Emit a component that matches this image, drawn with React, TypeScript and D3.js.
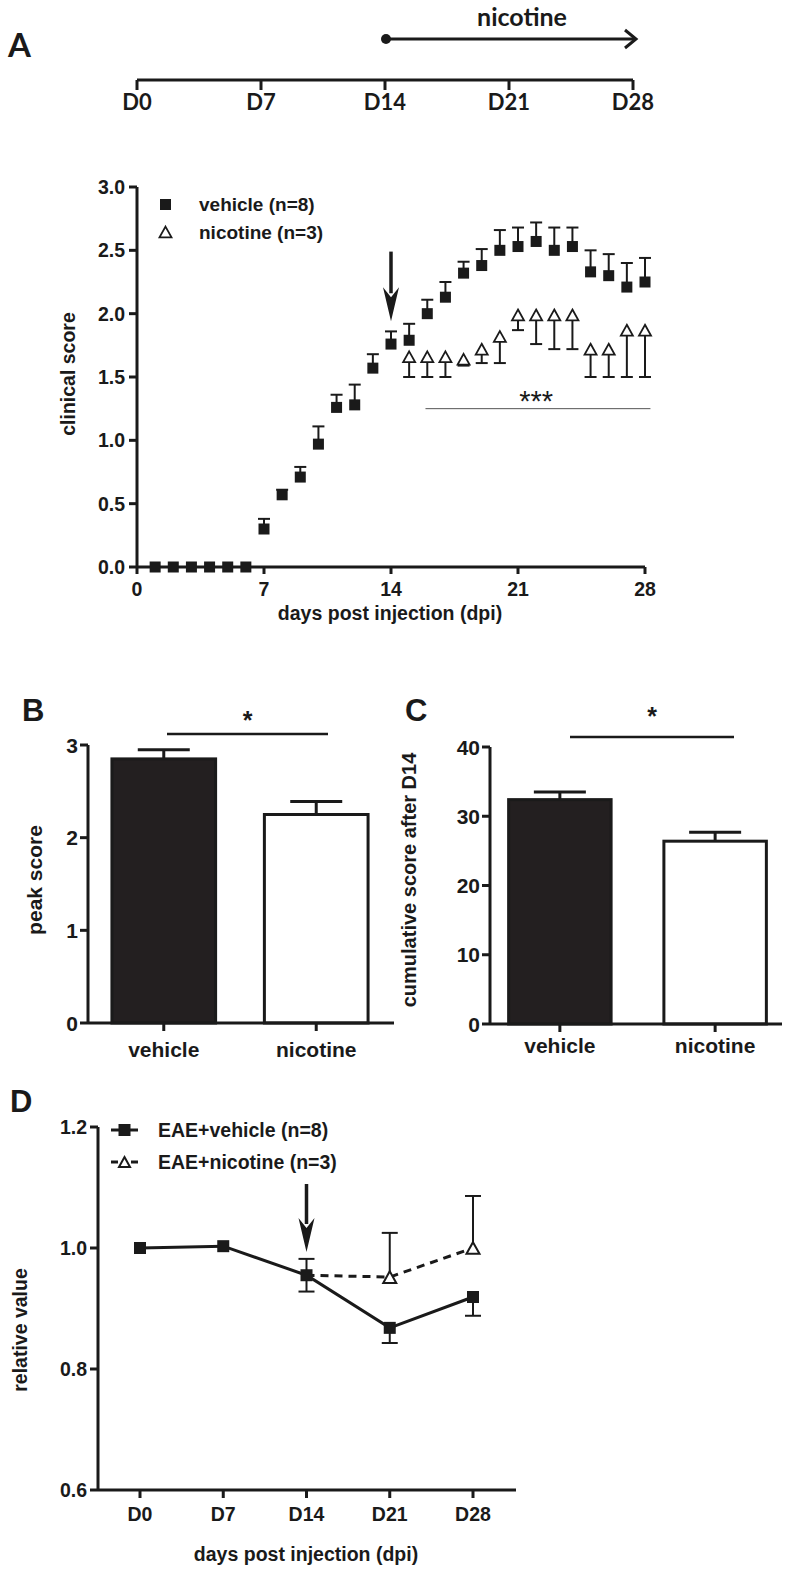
import React from 'react';
import * as d3 from 'd3';

// ---------- Data ----------
const timelineDays = [0, 7, 14, 21, 28];
const timelineLabels = ['D0', 'D7', 'D14', 'D21', 'D28'];

const vehicleDays = [1, 2, 3, 4, 5, 6, 7, 8, 9, 10, 11, 12, 13, 14, 15, 16, 17, 18, 19, 20, 21, 22, 23, 24, 25, 26, 27, 28];
const vehicleMean = [0, 0, 0, 0, 0, 0, 0.30, 0.57, 0.71, 0.97, 1.26, 1.28, 1.57, 1.76, 1.79, 2.00, 2.13, 2.32, 2.38, 2.50, 2.53, 2.57, 2.50, 2.53, 2.33, 2.30, 2.21, 2.25];
const vehicleErrTop = [0, 0, 0, 0, 0, 0, 0.38, 0.61, 0.79, 1.11, 1.36, 1.44, 1.68, 1.86, 1.92, 2.11, 2.25, 2.41, 2.51, 2.66, 2.68, 2.72, 2.68, 2.68, 2.50, 2.47, 2.40, 2.44];

const nicotineDays = [15, 16, 17, 18, 19, 20, 21, 22, 23, 24, 25, 26, 27, 28];
const nicotineMean = [1.66, 1.66, 1.66, 1.64, 1.72, 1.82, 1.99, 1.99, 1.99, 1.99, 1.72, 1.72, 1.87, 1.87];
const nicotineErrLow = [1.50, 1.50, 1.50, 1.59, 1.61, 1.61, 1.87, 1.76, 1.72, 1.72, 1.50, 1.50, 1.50, 1.50];

const aXTicks = [0, 7, 14, 21, 28];
const aYTicks = [0, 0.5, 1.0, 1.5, 2.0, 2.5, 3.0];

const barGroups = ['vehicle', 'nicotine'];
const peakMean = [2.85, 2.25];
const peakErr = [0.10, 0.14];
const peakTicks = [0, 1, 2, 3];

const cumMean = [32.4, 26.4];
const cumErr = [1.1, 1.3];
const cumTicks = [0, 10, 20, 30, 40];

const dLabels = ['D0', 'D7', 'D14', 'D21', 'D28'];
const dVehicleMean = [1.0, 1.003, 0.955, 0.868, 0.919];
const dVehicleErr = [0, 0.004, 0.027, 0.025, 0.031];
const dNicotineLabels = ['D14', 'D21', 'D28'];
const dNicotineMean = [0.955, 0.952, 1.0];
const dNicotineErr = [0, 0.073, 0.086];
const dTicks = [0.6, 0.8, 1.0, 1.2];

const F = "'Liberation Sans', Arial, sans-serif";
const FC = "Lato, 'Open Sans', sans-serif";
const INK = '#1a1a1a';

function tri(cx: number, cy: number, s: number) {
  const h = s * 0.9;
  return `M${cx},${cy - h / 2} L${cx + s / 2},${cy + h / 2} L${cx - s / 2},${cy + h / 2} Z`;
}

function DownArrow({ x, y1, y2 }: { x: number; y1: number; y2: number }) {
  const headLen = 34;
  const hw = 8;
  return (
    <g>
      <line x1={x} y1={y1} x2={x} y2={y2 - headLen + 6} stroke={INK} strokeWidth={3.5} />
      <path d={`M${x},${y2} L${x - hw},${y2 - headLen} L${x},${y2 - headLen + 10} L${x + hw},${y2 - headLen} Z`} fill={INK} />
    </g>
  );
}

function Timeline() {
  const x = d3.scaleLinear().domain([0, 28]).range([137, 633]);
  const y = 80;
  return (
    <g fontFamily={FC} fontWeight="bold" fill={INK}>
      <text x={8} y={57} fontSize={33}>A</text>
      <line x1={x(0)} y1={y} x2={x(28)} y2={y} stroke={INK} strokeWidth={3} />
      {timelineDays.map((d, i) => (
        <g key={d}>
          <line x1={x(d)} y1={y} x2={x(d)} y2={y + 10} stroke={INK} strokeWidth={3} />
          <text x={x(d)} y={110} textAnchor="middle" fontSize={22}>{timelineLabels[i]}</text>
        </g>
      ))}
      <circle cx={x(14) + 1} cy={39} r={5} fill={INK} />
      <line x1={x(14)} y1={39} x2={x(28) + 2} y2={39} stroke={INK} strokeWidth={3} />
      <path d={`M${x(28) - 8},${30} L${x(28) + 3},${39} L${x(28) - 8},${48}`} fill="none" stroke={INK} strokeWidth={3} />
      <text x={522} y={26} textAnchor="middle" fontSize={25}>nicotine</text>
    </g>
  );
}

function PanelA() {
  const x = d3.scaleLinear().domain([0, 28]).range([137, 645]);
  const y = d3.scaleLinear().domain([0, 3]).range([567, 187]);
  const cap = 6;
  const sq = 11;
  return (
    <g fontFamily={F} fontWeight="bold" fill={INK}>
      {/* axes */}
      <line x1={x(0)} y1={y(3)} x2={x(0)} y2={y(0)} stroke={INK} strokeWidth={3} />
      <line x1={x(0)} y1={y(0)} x2={x(28)} y2={y(0)} stroke={INK} strokeWidth={3} />
      {aYTicks.map((t) => (
        <g key={t}>
          <line x1={x(0) - 8} y1={y(t)} x2={x(0)} y2={y(t)} stroke={INK} strokeWidth={3} />
          <text x={x(0) - 12} y={y(t) + 7} textAnchor="end" fontSize={19.5}>{t.toFixed(1)}</text>
        </g>
      ))}
      {aXTicks.map((t) => (
        <g key={t}>
          <line x1={x(t)} y1={y(0)} x2={x(t)} y2={y(0) + 7} stroke={INK} strokeWidth={3} />
          <text x={x(t)} y={y(0) + 29} textAnchor="middle" fontSize={19.5}>{t}</text>
        </g>
      ))}
      <text x={390} y={620} textAnchor="middle" fontSize={19.5}>days post injection (dpi)</text>
      <text transform={`translate(75,374) rotate(-90)`} textAnchor="middle" fontSize={19.5}>clinical score</text>

      {/* vehicle error bars */}
      {vehicleDays.map((d, i) =>
        vehicleErrTop[i] > vehicleMean[i] ? (
          <g key={'ve' + d} stroke={INK} strokeWidth={2}>
            <line x1={x(d)} y1={y(vehicleMean[i])} x2={x(d)} y2={y(vehicleErrTop[i])} />
            <line x1={x(d) - cap} y1={y(vehicleErrTop[i])} x2={x(d) + cap} y2={y(vehicleErrTop[i])} />
          </g>
        ) : null
      )}
      {/* nicotine error bars */}
      {nicotineDays.map((d, i) => (
        <g key={'ne' + d} stroke={INK} strokeWidth={2}>
          <line x1={x(d)} y1={y(nicotineMean[i])} x2={x(d)} y2={y(nicotineErrLow[i])} />
          <line x1={x(d) - cap} y1={y(nicotineErrLow[i])} x2={x(d) + cap} y2={y(nicotineErrLow[i])} />
        </g>
      ))}
      {vehicleDays.map((d, i) => (
        <rect key={'vs' + d} x={x(d) - sq / 2} y={y(vehicleMean[i]) - sq / 2} width={sq} height={sq} fill={INK} />
      ))}
      {nicotineDays.map((d, i) => (
        <path key={'nt' + d} d={tri(x(d), y(nicotineMean[i]), 12)} fill="#fff" stroke={INK} strokeWidth={1.8} />
      ))}

      {/* arrow */}
      <DownArrow x={x(14)} y1={y(2.49)} y2={y(1.94)} />

      {/* significance */}
      <line x1={x(15.9)} y1={y(1.25)} x2={x(28.3)} y2={y(1.25)} stroke="#555" strokeWidth={1} />
      <text x={x(22)} y={y(1.25) + 2} textAnchor="middle" fontSize={29} fontWeight="normal">***</text>

      {/* legend */}
      <rect x={160} y={199} width={11} height={11} fill={INK} />
      <text x={199} y={211} fontSize={19}>vehicle (n=8)</text>
      <path d={tri(165.5, 232, 12)} fill="#fff" stroke={INK} strokeWidth={1.8} />
      <text x={199} y={239} fontSize={19}>nicotine (n=3)</text>
    </g>
  );
}

function BarPanel(props: {
  letter: string; letterX: number; letterY: number;
  axisX: number; axisEnd: number; y0: number; yTop: number; domainMax: number;
  ticks: number[]; means: number[]; errs: number[];
  sigY: number; sigX1: number; sigX2: number; starY: number;
  title: string; titleX: number; titleY: number; titleSize: number;
  labelY: number; bandRange: [number, number]; padIn: number; padOut: number;
}) {
  const p = props;
  const y = d3.scaleLinear().domain([0, p.domainMax]).range([p.y0, p.yTop]);
  const x = d3.scaleBand<string>().domain(barGroups).range(p.bandRange).paddingInner(p.padIn).paddingOuter(p.padOut);
  const bw = x.bandwidth();
  const capW = 26;
  return (
    <g fontFamily={F} fontWeight="bold" fill={INK}>
      <text x={p.letterX} y={p.letterY} fontSize={31}>{p.letter}</text>
      {barGroups.map((g, i) => {
        const bx = x(g) as number;
        const cx = bx + bw / 2;
        return (
          <g key={g}>
            <line x1={cx} y1={y(p.means[i])} x2={cx} y2={y(p.means[i] + p.errs[i])} stroke={INK} strokeWidth={3} />
            <line x1={cx - capW} y1={y(p.means[i] + p.errs[i])} x2={cx + capW} y2={y(p.means[i] + p.errs[i])} stroke={INK} strokeWidth={3} />
            <rect x={bx} y={y(p.means[i])} width={bw} height={p.y0 - y(p.means[i])}
              fill={i === 0 ? '#231f20' : '#fff'} stroke={INK} strokeWidth={3} />
            <line x1={cx} y1={p.y0} x2={cx} y2={p.y0 + 8} stroke={INK} strokeWidth={3} />
            <text x={cx} y={p.labelY} textAnchor="middle" fontSize={21}>{g}</text>
          </g>
        );
      })}
      <line x1={p.axisX} y1={p.yTop} x2={p.axisX} y2={p.y0} stroke={INK} strokeWidth={3} />
      <line x1={p.axisX} y1={p.y0} x2={p.axisEnd} y2={p.y0} stroke={INK} strokeWidth={3} />
      {p.ticks.map((t) => (
        <g key={t}>
          <line x1={p.axisX - 8} y1={y(t)} x2={p.axisX} y2={y(t)} stroke={INK} strokeWidth={3} />
          <text x={p.axisX - 10} y={y(t) + 7.5} textAnchor="end" fontSize={21}>{t}</text>
        </g>
      ))}
      <line x1={p.sigX1} y1={p.sigY} x2={p.sigX2} y2={p.sigY} stroke={INK} strokeWidth={2.5} />
      <text x={(p.sigX1 + p.sigX2) / 2} y={p.starY} textAnchor="middle" fontSize={25}>*</text>
      <text transform={`translate(${p.titleX},${p.titleY}) rotate(-90)`} textAnchor="middle" fontSize={p.titleSize}>{p.title}</text>
    </g>
  );
}

function PanelD() {
  const x = d3.scalePoint<string>().domain(dLabels).range([140, 473]);
  const y = d3.scaleLinear().domain([0.6, 1.2]).range([1490, 1127]);
  const vLine = d3.line<number>().x((_, i) => x(dLabels[i]) as number).y((v) => y(v));
  const nLine = d3.line<number>().x((_, i) => x(dNicotineLabels[i]) as number).y((v) => y(v));
  const cap = 8;
  const sq = 12;
  return (
    <g fontFamily={F} fontWeight="bold" fill={INK}>
      <text x={10} y={1112} fontSize={31}>D</text>
      <line x1={98} y1={y(1.2)} x2={98} y2={y(0.6)} stroke={INK} strokeWidth={3} />
      <line x1={98} y1={y(0.6)} x2={516} y2={y(0.6)} stroke={INK} strokeWidth={3} />
      {dTicks.map((t) => (
        <g key={t}>
          <line x1={90} y1={y(t)} x2={98} y2={y(t)} stroke={INK} strokeWidth={3} />
          <text x={87} y={y(t) + 7} textAnchor="end" fontSize={19.5}>{t.toFixed(1)}</text>
        </g>
      ))}
      {dLabels.map((l) => (
        <g key={l}>
          <line x1={x(l)} y1={y(0.6)} x2={x(l)} y2={y(0.6) + 8} stroke={INK} strokeWidth={3} />
          <text x={x(l)} y={1521} textAnchor="middle" fontSize={19.5}>{l}</text>
        </g>
      ))}
      <text x={306} y={1561} textAnchor="middle" fontSize={19.5}>days post injection (dpi)</text>
      <text transform="translate(27,1330) rotate(-90)" textAnchor="middle" fontSize={19.5}>relative value</text>

      {/* nicotine */}
      <path d={nLine(dNicotineMean) || ''} fill="none" stroke={INK} strokeWidth={3} strokeDasharray="8 6" />
      {dNicotineLabels.map((l, i) =>
        dNicotineErr[i] > 0 ? (
          <g key={'ne' + l} stroke={INK} strokeWidth={2}>
            <line x1={x(l)} y1={y(dNicotineMean[i])} x2={x(l)} y2={y(dNicotineMean[i] + dNicotineErr[i])} />
            <line x1={(x(l) as number) - cap} y1={y(dNicotineMean[i] + dNicotineErr[i])} x2={(x(l) as number) + cap} y2={y(dNicotineMean[i] + dNicotineErr[i])} />
          </g>
        ) : null
      )}
      {/* vehicle */}
      <path d={vLine(dVehicleMean) || ''} fill="none" stroke={INK} strokeWidth={3} />
      {dLabels.map((l, i) => {
        const cx = x(l) as number;
        const e = dVehicleErr[i];
        if (e <= 0.005) return null;
        const showTop = l === 'D14';
        return (
          <g key={'ve' + l} stroke={INK} strokeWidth={2}>
            <line x1={cx} y1={y(dVehicleMean[i] - e)} x2={cx} y2={showTop ? y(dVehicleMean[i] + e) : y(dVehicleMean[i])} />
            <line x1={cx - cap} y1={y(dVehicleMean[i] - e)} x2={cx + cap} y2={y(dVehicleMean[i] - e)} />
            {showTop ? <line x1={cx - cap} y1={y(dVehicleMean[i] + e)} x2={cx + cap} y2={y(dVehicleMean[i] + e)} /> : null}
          </g>
        );
      })}
      {dLabels.map((l, i) => (
        <rect key={'vs' + l} x={(x(l) as number) - sq / 2} y={y(dVehicleMean[i]) - sq / 2} width={sq} height={sq} fill={INK} />
      ))}
      {dNicotineLabels.slice(1).map((l, i) => (
        <path key={'nt' + l} d={tri(x(l) as number, y(dNicotineMean[i + 1]), 13)} fill="#fff" stroke={INK} strokeWidth={2} />
      ))}

      <DownArrow x={x('D14') as number} y1={1184} y2={1252} />

      {/* legend */}
      <line x1={111} y1={1130} x2={138} y2={1130} stroke={INK} strokeWidth={3} />
      <rect x={118.5} y={1124} width={12} height={12} fill={INK} />
      <text x={158} y={1137} fontSize={19.5}>EAE+vehicle (n=8)</text>
      <line x1={111} y1={1162} x2={118} y2={1162} stroke={INK} strokeWidth={3} />
      <line x1={131} y1={1162} x2={138} y2={1162} stroke={INK} strokeWidth={3} />
      <path d={tri(124.5, 1162, 11)} fill="#fff" stroke={INK} strokeWidth={2} />
      <text x={158} y={1169} fontSize={19.5}>EAE+nicotine (n=3)</text>
    </g>
  );
}

export default function App() {
  return (
    <svg width={787} height={1575} style={{ position: 'absolute', left: 0, top: 0, background: '#fff' }}>
      <rect width={787} height={1575} fill="#fff" />
      <Timeline />
      <PanelA />
      <BarPanel letter="B" letterX={22} letterY={721} axisX={88} axisEnd={394} y0={1023} yTop={745} domainMax={3}
        ticks={peakTicks} means={peakMean} errs={peakErr} sigY={734} sigX1={167} sigX2={328} starY={729}
        title="peak score" titleX={42} titleY={880} titleSize={21} labelY={1057}
        bandRange={[88, 392]} padIn={0.32} padOut={0.157} />
      <BarPanel letter="C" letterX={405} letterY={721} axisX={490} axisEnd={782} y0={1024} yTop={747} domainMax={40}
        ticks={cumTicks} means={cumMean} errs={cumErr} sigY={737} sigX1={570} sigX2={734} starY={725}
        title="cumulative score after D14" titleX={416} titleY={880} titleSize={20} labelY={1053}
        bandRange={[490, 785]} padIn={0.34} padOut={0.12} />
      <PanelD />
    </svg>
  );
}
